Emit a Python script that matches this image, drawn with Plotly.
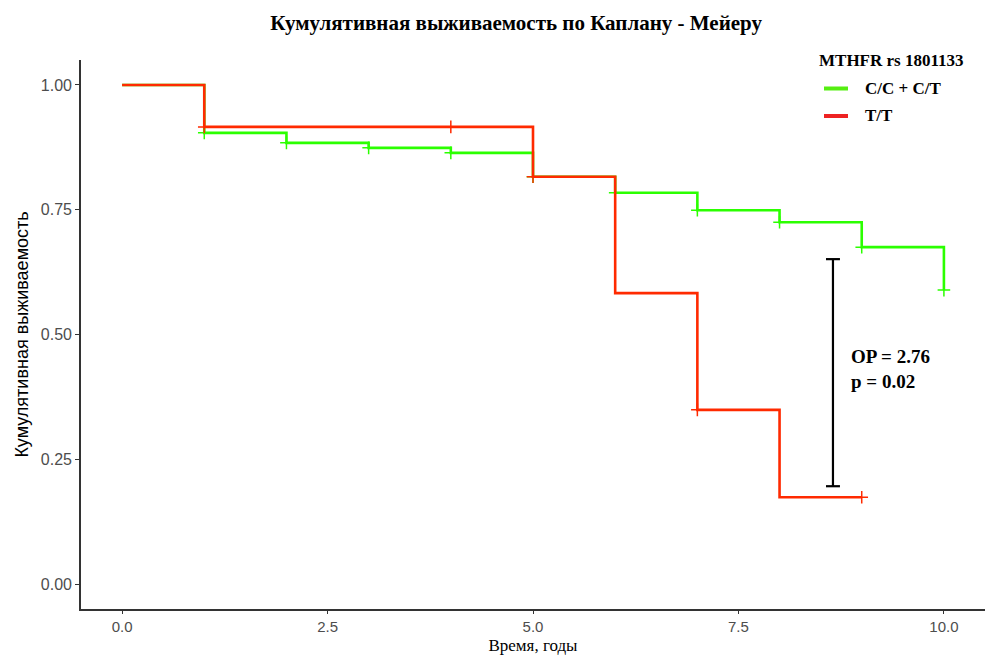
import plotly.graph_objects as go

# Kaplan-Meier step estimates by genotype group
groups = ["C/C + C/T", "T/T"]
colors = ["#2BFF00", "#FF2A00"]
legend_colors = ["#55EE11", "#EE2222"]
legend_title = "MTHFR rs 1801133"

time_cc = [0, 1, 2, 3, 4, 5, 6, 7, 8, 9, 10]
surv_cc = [1.0, 0.904, 0.884, 0.874, 0.864, 0.816, 0.784, 0.749, 0.725, 0.675, 0.589]
cens_t_cc = [1, 2, 3, 4, 5, 6, 7, 8, 9, 10]
cens_s_cc = [0.904, 0.884, 0.874, 0.864, 0.816, 0.784, 0.749, 0.725, 0.675, 0.589]

time_tt = [0, 1, 5, 6, 7, 8, 9]
surv_tt = [1.0, 0.916, 0.816, 0.583, 0.349, 0.174, 0.174]
cens_t_tt = [1, 4, 5, 7, 9]
cens_s_tt = [0.916, 0.916, 0.816, 0.349, 0.174]

# Hazard ratio annotation and the span it marks
hr_x = 8.65
hr_low, hr_high = 0.196, 0.651
hr_text = "<b>OP = 2.76</b><br><b>p = 0.02</b>"

x_ticks = [0.0, 2.5, 5.0, 7.5, 10.0]
y_ticks = [0.0, 0.25, 0.5, 0.75, 1.0]

W, H = 985, 655
M_L, M_R, M_T, M_B = 81, 0, 60, 46
PLOT_W = W - M_L - M_R
PLOT_H = H - M_T - M_B


def px_x(px):
    return (px - M_L) / PLOT_W


def px_y(py):
    return (H - M_B - py) / PLOT_H


fig = go.Figure()

series = [
    (time_cc, surv_cc, cens_t_cc, cens_s_cc),
    (time_tt, surv_tt, cens_t_tt, cens_s_tt),
]
for name, col, (t, s, ct, cs) in zip(groups, colors, series):
    fig.add_trace(go.Scatter(
        x=t, y=s, mode="lines", name=name,
        line=dict(color=col, width=2.6, shape="hv"),
        showlegend=False,
    ))
    fig.add_trace(go.Scatter(
        x=ct, y=cs, mode="markers", showlegend=False,
        marker=dict(symbol="cross-thin", size=9, line=dict(color=col, width=1.5)),
        hoverinfo="skip",
    ))

# Vertical error bar with caps
fig.add_trace(go.Scatter(
    x=[hr_x, hr_x], y=[hr_low, hr_high], mode="lines", showlegend=False,
    line=dict(color="black", width=2.2), hoverinfo="skip",
))
for yv in (hr_low, hr_high):
    fig.add_trace(go.Scatter(
        x=[hr_x - 0.085, hr_x + 0.085], y=[yv, yv], mode="lines", showlegend=False,
        line=dict(color="black", width=2.2), hoverinfo="skip",
    ))

fig.add_annotation(
    x=8.85, y=0.43, xref="x", yref="y", text=hr_text, showarrow=False,
    xanchor="left", yanchor="middle", align="left",
    font=dict(family="Liberation Serif", size=19, color="black"),
)

# Legend block (title, keys and labels) in the top-right corner
fig.add_annotation(
    x=px_x(891), y=px_y(60), xref="paper", yref="paper",
    text=f"<b>{legend_title}</b>", showarrow=False,
    xanchor="center", yanchor="middle",
    font=dict(family="Liberation Serif", size=17, color="black"),
)
for i, (name, col) in enumerate(zip(groups, legend_colors)):
    yk = 88.5 + i * 27.5
    fig.add_shape(
        type="line", xref="paper", yref="paper",
        x0=px_x(824), x1=px_x(848), y0=px_y(yk), y1=px_y(yk),
        line=dict(color=col, width=4),
    )
    fig.add_annotation(
        x=px_x(863), y=px_y(yk), xref="paper", yref="paper",
        text=f"<b>{name}</b>", showarrow=False,
        xanchor="left", yanchor="middle",
        font=dict(family="Liberation Serif", size=17, color="black"),
    )

fig.update_layout(
    width=W, height=H,
    margin=dict(l=M_L, r=M_R, t=M_T, b=M_B),
    paper_bgcolor="white", plot_bgcolor="white",
    title=dict(
        text="<b>Кумулятивная выживаемость по Каплану - Мейеру</b>",
        x=0.524, xanchor="center", y=0.966, yanchor="middle",
        font=dict(family="Liberation Serif", size=21, color="black"),
    ),
    showlegend=False,
)

fig.update_xaxes(
    range=[-0.5, 10.5], tickvals=x_ticks,
    ticktext=[f"{v:.1f}" for v in x_ticks],
    showgrid=False, zeroline=False,
    showline=True, linecolor="#333333", linewidth=1.6,
    ticks="outside", ticklen=3, tickcolor="#333333", tickwidth=1.4,
    tickfont=dict(family="Liberation Sans", size=15, color="#4d4d4d"),
    title=dict(text="Время, годы", standoff=9,
               font=dict(family="Liberation Serif", size=17, color="black")),
)
fig.update_yaxes(
    range=[-0.05, 1.05], tickvals=y_ticks,
    ticktext=[f"{v:.2f}" for v in y_ticks],
    showgrid=False, zeroline=False,
    showline=True, linecolor="#333333", linewidth=1.6,
    ticks="outside", ticklen=4, tickcolor="#333333", tickwidth=1.4,
    tickfont=dict(family="Liberation Sans", size=16, color="#4d4d4d"),
    title=dict(text="Кумулятивная выживаемость", standoff=8,
               font=dict(family="Liberation Sans", size=18, color="black")),
)

fig.write_html("out.html")
